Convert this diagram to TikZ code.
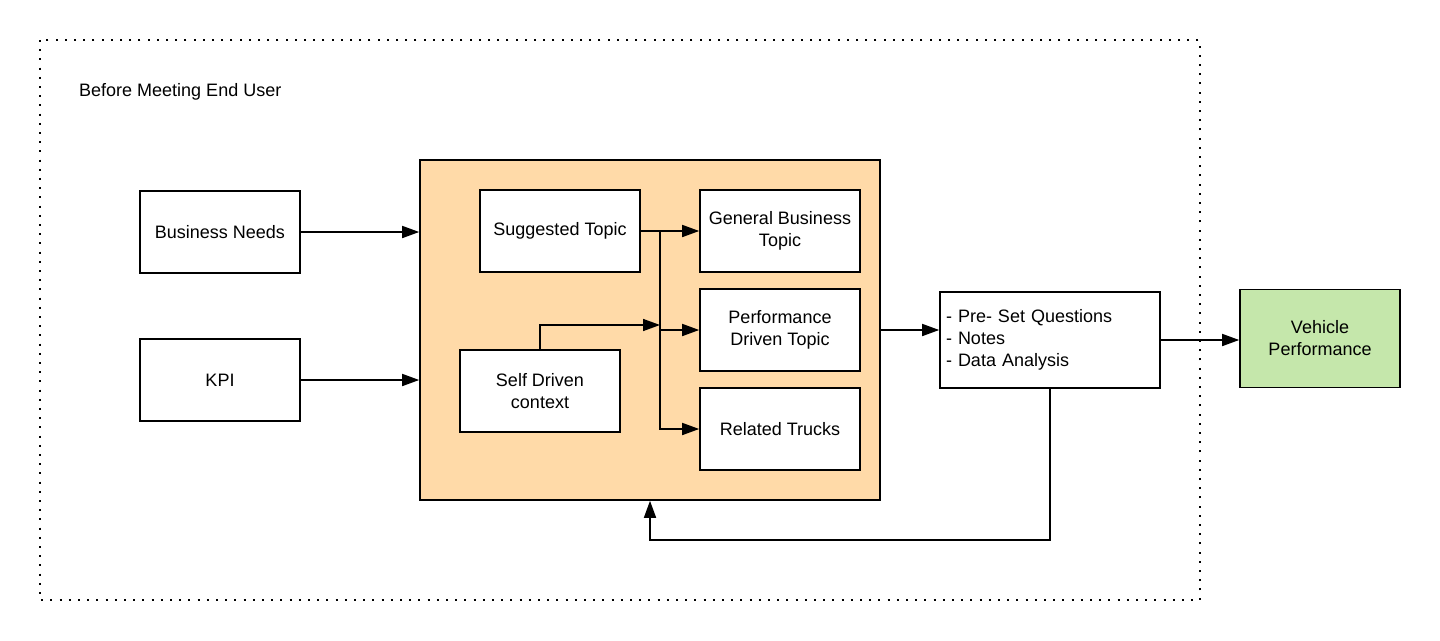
\documentclass[tikz,border=0pt]{standalone}
\usepackage{fontspec}
\setmainfont{Liberation Sans}
\usepackage{xcolor}
\usepackage{tikz}
\usetikzlibrary{calc, arrows.meta, positioning}

\definecolor{topicfill}{HTML}{FFDAA8}
\definecolor{perffill}{HTML}{C5E7AB}

\tikzset{
  box/.style={draw, line width=1.6pt, fill=white, minimum width=160pt, minimum height=82pt,
    inner sep=0pt, align=center, font=\fontsize{18}{22}\selectfont},
  arr/.style={line width=1.6pt, -{Triangle[length=17pt,width=12pt]}},
}

\begin{document}
\begin{tikzpicture}[x=1pt, y=-1pt]
\useasboundingbox (0,0) rectangle (1440,640);
% outer frame
\draw[line width=2pt, dash pattern=on 2pt off 7.2pt] (40,40) rectangle (1200,600);
\node[anchor=west, inner sep=0pt, font=\fontsize{18}{22}\selectfont] (title) at (79,92) {Before Meeting End User};

\node[box, draw, fill=topicfill, minimum width=460pt, minimum height=340pt] (topics) at (650,330) {};

\node[box] (bneeds) at (220,232) {Business Needs};
\node[box] (kpi) at (220,380) {KPI};
\node[box] (sugg) at (560,231) {Suggested Topic};
\node[box] (gbt) at (780,231) {General Business\\Topic};
\node[box] (pdt) at (780,330) {Performance\\Driven Topic};
\node[box] (rtr) at (780,429) {Related Trucks};
\node[box] (sdc) at (540,391) {Self Driven\\context};
\node[box, minimum width=220pt, minimum height=96pt, align=left, text width=208pt] (notes) at (1050,340)
  {- Pre- Set Questions\\- Notes\\- Data Analysis};
\node[box, fill=perffill, minimum height=98pt] (vp) at (1320,338.5) {Vehicle\\Performance};

\coordinate (trunk) at (660,231);
\coordinate (sdin) at (660,325);
\coordinate (fb) at (650,540);

\draw[arr] (bneeds.east) -- (bneeds.east -| topics.west);
\draw[arr] (kpi.east) -- (kpi.east -| topics.west);
\draw[arr] (sugg.east) -- (gbt.west);
\draw[arr] (trunk) |- (rtr.west);
\draw[arr] (trunk |- pdt.west) -- (pdt.west);
\draw[arr] (sdc.north) |- (sdin);
\draw[arr] (topics.east) -- (topics.east -| notes.west);
\draw[arr] (notes.east) -- (notes.east -| vp.west);
\draw[arr] (notes.south) |- (fb) -- (topics.south);
\end{tikzpicture}
\end{document}
